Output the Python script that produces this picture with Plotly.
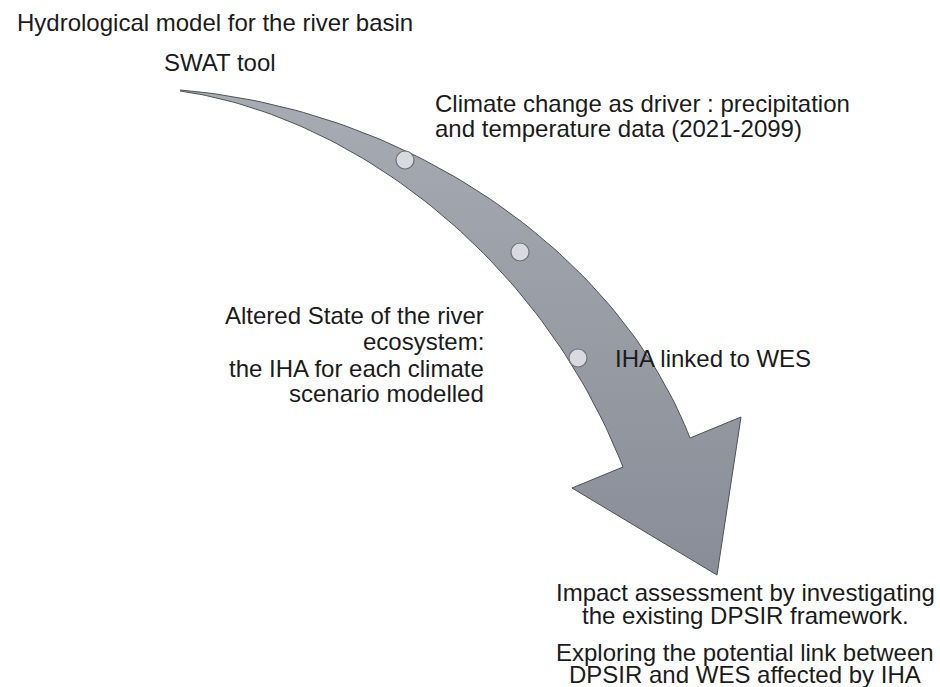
import numpy as np
import plotly.graph_objects as go

W, H = 940, 687

# ---- diagram content ----
labels = [
    "Hydrological model for the river basin",
    "SWAT tool",
    "Climate change as driver : precipitation",
    "and temperature data (2021-2099)",
    "Altered State of the river",
    "ecosystem:",
    "the IHA for each climate",
    "scenario modelled",
    "IHA linked to WES",
    "Impact assessment by investigating",
    "the existing DPSIR framework.",
    "Exploring the potential link between",
    "DPSIR and WES affected by IHA",
]
label_x = [15, 220, 433, 433, 486, 486, 486, 486, 613, 745, 745, 745, 745]
label_y = [22, 62, 103, 128, 315, 341, 368, 393, 358, 592, 615, 652, 674]
label_anchor = ["left", "center", "left", "left", "right", "right", "right", "right",
                "left", "center", "center", "center", "center"]

# arrow geometry (cubic Bezier control points for the curved shaft edges)
upper_edge = [(180, 90), (420, 110), (622, 262), (690, 438)]
head = [(690, 438), (741, 417), (717, 575), (572, 488), (623, 467)]
lower_edge = [(623, 467), (540, 255), (350, 115), (180, 91)]

# stations along the arrow
station_x = [405, 520, 578]
station_y = [160, 252, 358]


def bezier(pts, n=80):
    p = np.array(pts, dtype=float)
    t = np.linspace(0, 1, n)[:, None]
    return ((1 - t) ** 3) * p[0] + 3 * ((1 - t) ** 2) * t * p[1] + 3 * (1 - t) * t ** 2 * p[2] + t ** 3 * p[3]


up = bezier(upper_edge)
lo = bezier(lower_edge)
hd = np.array(head, dtype=float)
outline = np.vstack([up, hd[1:-1], lo])

fig = go.Figure()
fig.add_trace(go.Scatter(
    x=outline[:, 0], y=outline[:, 1], mode="lines", fill="toself",
    line=dict(color="#4f5257", width=1),
    fillgradient=dict(type="vertical", start=90, stop=575,
                      colorscale=[[0, "#a7abb3"], [1, "#888d97"]]),
    hoverinfo="skip", showlegend=False,
))
fig.add_trace(go.Scatter(
    x=station_x, y=station_y, mode="markers",
    marker=dict(size=18, color="#d9dade", line=dict(color="#6f7177", width=1.2)),
    hoverinfo="skip", showlegend=False,
))

for txt, x, y, a in zip(labels, label_x, label_y, label_anchor):
    fig.add_annotation(x=x, y=y, text=txt, showarrow=False, xanchor=a, yanchor="middle",
                       font=dict(family="Liberation Sans, Arial, sans-serif", size=24, color="#1b1b1b"))

fig.update_layout(
    width=W, height=H, margin=dict(l=0, r=0, t=0, b=0),
    paper_bgcolor="white", plot_bgcolor="white",
    xaxis=dict(range=[0, W], visible=False, fixedrange=True),
    yaxis=dict(range=[H, 0], visible=False, fixedrange=True),
)
fig.write_html("out.html", config={"displayModeBar": False},
               post_script="document.body.style.margin='0';document.body.style.overflow='hidden';")
